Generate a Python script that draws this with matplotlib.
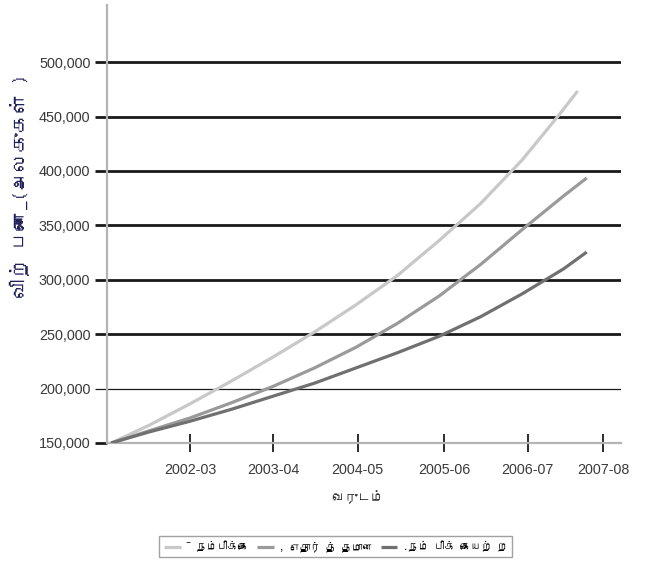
import matplotlib
matplotlib.use('Agg')
import matplotlib.pyplot as plt
from matplotlib import font_manager
from matplotlib.ft2font import FT2Font
from matplotlib.ticker import FuncFormatter, FixedLocator

# ---------------- data ----------------
year_labels = ['2002-03', '2003-04', '2004-05', '2005-06', '2006-07', '2007-08']
year_ticks = [1.0, 2.0, 3.02, 4.06, 5.07, 5.98]

series_names = ['¯ நம்பிக்கை', ', எதார் த் தமான', '.நம் பிக் கையற் ற']

opt_x = [0.05, 0.5, 1, 1.5, 2, 2.5, 3, 3.5, 4, 4.5, 5, 5.43, 5.67]
opt_y = [150000, 166000, 186000, 207000, 229000, 252000, 277000, 304000, 336000,
         370000, 410000, 450000, 473500]

real_x = [0.05, 0.5, 1, 1.5, 2, 2.5, 3, 3.5, 4, 4.5, 5, 5.5, 5.78]
real_y = [150000, 161000, 173000, 187000, 202000, 219000, 238000, 260000, 285000,
          314000, 346000, 377000, 393600]

pess_x = [0.05, 0.5, 1, 1.5, 2, 2.5, 3, 3.5, 4, 4.5, 5, 5.5, 5.78]
pess_y = [150000, 160000, 170000, 181000, 193000, 205000, 219000, 233000, 248000,
          266000, 287000, 310000, 325500]

y_ticks = [150000, 200000, 250000, 300000, 350000, 400000, 450000, 500000]

xlabel = 'வருடம்'
ylabel = 'விற் பனை_(அலகுகள் )'

# ---------------- fonts ----------------
def find_font(ch):
    seen = set()
    for f in font_manager.fontManager.ttflist:
        if f.fname in seen:
            continue
        seen.add(f.fname)
        try:
            if ord(ch) in FT2Font(f.fname).get_charmap():
                return f.name
        except Exception:
            pass
    return None

tamil = find_font('த')
num_family = ['Liberation Sans', 'DejaVu Sans']
tam_family = ([tamil] if tamil else []) + ['Liberation Sans', 'DejaVu Sans']
plt.rcParams['font.family'] = num_family

# ---------------- figure ----------------
W, H = 648, 562
fig = plt.figure(figsize=(W / 100, H / 100), dpi=100)
ax = fig.add_axes([107 / W, 1 - 443 / H, (621 - 107) / W, (443 - 5) / H])

ax.set_xlim(0, (621 - 107) / 83.0)
ax.set_ylim(150000, 150000 + (443 - 5) / 54.4 * 50000)

# gridlines from y ticks (skip the baseline)
ax.yaxis.set_major_locator(FixedLocator(y_ticks))
for v in y_ticks[1:]:
    lw = 0.9 if v == 200000 else 2.0
    ax.axhline(v, color='#1a1a1a', lw=lw, zorder=1)

colors = ['#c8c8c8', '#9a9a9a', '#707070']
for xs, ys, c, name in zip([opt_x, real_x, pess_x], [opt_y, real_y, pess_y], colors, series_names):
    ax.plot(xs, ys, color=c, lw=2.3, solid_capstyle='butt', solid_joinstyle='round',
            label=name, zorder=3)

for s in ['top', 'right']:
    ax.spines[s].set_visible(False)
for s in ['left', 'bottom']:
    ax.spines[s].set_color('#b4b4b4')
    ax.spines[s].set_linewidth(1.6)
    ax.spines[s].set_zorder(2)

ax.yaxis.set_major_formatter(FuncFormatter(lambda v, p: f'{v:,.0f}'))
ax.tick_params(axis='y', direction='out', length=8.6, width=2.0, color='#1a1a1a',
               labelsize=10.4, labelcolor='#3a3a3a', pad=3.4)
for t, v in zip(ax.yaxis.get_major_ticks(), y_ticks):
    if v == 200000:
        t.tick1line.set_markeredgewidth(0.9)

ax.xaxis.set_major_locator(FixedLocator(year_ticks))
ax.set_xticklabels(year_labels)
ax.tick_params(axis='x', direction='inout', length=13, width=1.3, color='#1a1a1a',
               labelsize=10.3, labelcolor='#3a3a3a', pad=8.0)

fig.text(358 / W, 1 - 497 / H, xlabel, ha='center', va='center', fontsize=9.5,
         color='#2a2a2a', family=tam_family)
fig.text(20 / W, 1 - 186 / H, ylabel, ha='center', va='center', rotation=90,
         fontsize=14, color='#1f1f5a', family=tam_family)

leg = fig.legend(loc='center', bbox_to_anchor=(335.5 / W, 1 - 546.5 / H), ncol=3,
                 prop={'family': tam_family, 'size': 7.5}, frameon=True, fancybox=False,
                 handlelength=1.6, columnspacing=0.8, handletextpad=0.5,
                 borderpad=0.5, edgecolor='#8a8a8a')
leg.get_frame().set_linewidth(1.0)

fig.savefig('out.png', dpi=100)
